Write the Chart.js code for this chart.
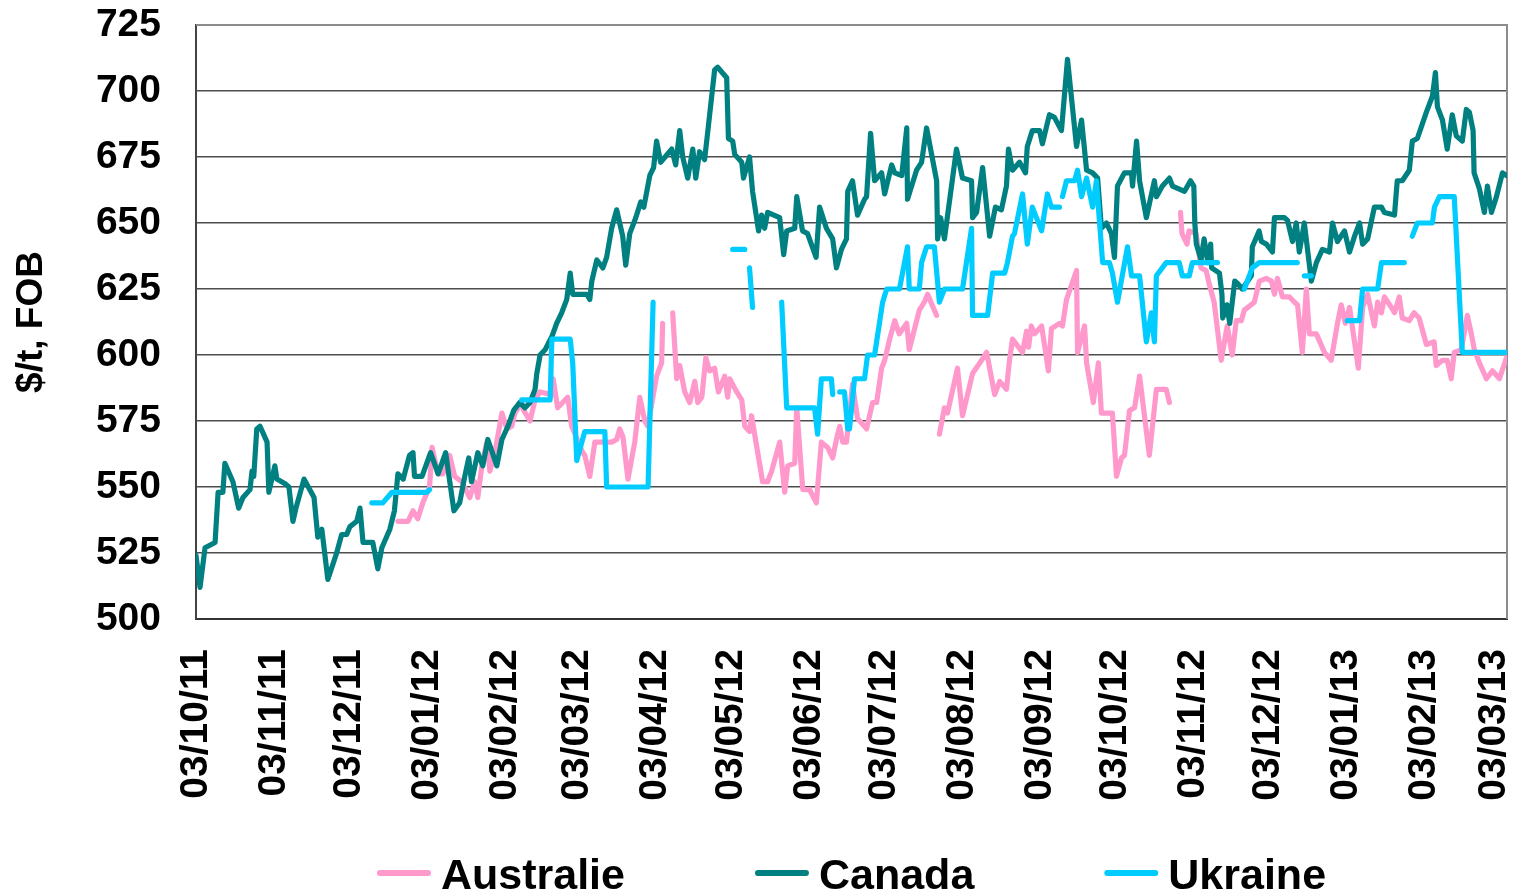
<!DOCTYPE html>
<html>
<head>
<meta charset="utf-8">
<script src="https://cdn.jsdelivr.net/npm/chart.js@4.4.1/dist/chart.umd.min.js"></script>
<style>
  html, body { margin: 0; padding: 0; background: #fff; }
  canvas { display: block; }
</style>
</head>
<body>
<canvas id="chart" width="1515" height="896"></canvas>
<script>
// x = days since 03/10/11
const tickDays = [0, 31, 61, 92, 123, 152, 183, 213, 244, 274, 305, 336, 366, 397, 427, 458, 489, 517];
const tickLabels = ['03/10/11', '03/11/11', '03/12/11', '03/01/12', '03/02/12', '03/03/12', '03/04/12', '03/05/12',
  '03/06/12', '03/07/12', '03/08/12', '03/09/12', '03/10/12', '03/11/12', '03/12/12', '03/01/13', '03/02/13', '03/03/13'];

const seriesNames = ['Australie', 'Canada', 'Ukraine'];
const seriesColors = ['#ff99cc', '#008080', '#00ccff'];

const ausDays = [80.4, 84.4, 86.4, 88.3, 90.3, 93, 94, 96.3, 98.3, 101, 103, 105.8, 109, 111, 112.2, 113.8, 115.8, 117, 119, 121.8,
  123.8, 125.7, 127, 129.7, 130.5, 133, 135, 137, 141.7, 142.2, 144, 148, 149.6, 154, 154.8, 156.8, 158.8, 162, 165.5, 167.5,
  168.7, 170, 172, 174.7, 176.7, 178.7, 179.9, 183.4, 185.4, 185.8, 187.5, 189.8, 191.4, 192.6, 194.6, 196.6, 198.6, 199.8, 201.4, 203,
  204.5, 206.5, 208, 210.5, 211.7, 212.5, 215.3, 217.3, 218.5, 220.4, 221.2, 225.6, 227.6, 229.2, 232.4, 234.4, 235.6, 238.4, 239.2, 241.6,
  244.3, 247, 249, 251.5, 253.5, 255, 256.3, 257.5, 259, 261.4, 263.4, 267, 269.4, 271, 273, 274.2, 276.2, 278.2, 280, 283,
  284, 288, 290, 291.3, 294.9, 295.5, 296, 298, 299.2, 303.2, 305.2, 309.2, 312.8, 314.8, 318, 320, 322.7, 323.9, 325.1, 329.1,
  330.7, 331.5, 332.6, 333.9, 336.7, 339.4, 340.6, 343.8, 345, 346.6, 350.6, 351, 353.8, 354.6, 357.3, 359.3, 360.5, 364.9, 366.5, 368.5,
  369.7, 371.7, 373.7, 375.7, 379.6, 382.4, 386.3, 387.6, 390, 392, 392.6, 394.6, 395.4, 398.2, 400.2, 402.2, 403.4, 405.4, 408.2, 410.6,
  412.6, 414.2, 416.2, 417.4, 421.4, 423.4, 426.2, 428.2, 429.4, 430.6, 432.6, 435.4, 437.4, 438.6, 440.5, 442.1, 443.3, 446.1, 449.3, 452,
  454.5, 456, 457.6, 459.3, 462.8, 464.5, 466.5, 469.2, 470.5, 472, 473.2, 476, 477.2, 479.1, 480.3, 483.1, 485, 487, 489.9, 493,
  493.8, 496.3, 498.2, 499.8, 501, 503.8, 506.2, 507.8, 509, 511, 513.8, 516.2, 519, 521.8];
const ausValues = [537, 537, 541, 538, 544, 550, 565, 555, 555, 562, 554, 552, 546, 552, 546, 558, 567, 556, 563, 578,
  572, 573, 578, 582, 579, 575, 583, 586, 585, 591, 580, 584, 573, 563, 562, 554, 567, 567, 567, 568,
  572, 569, 553, 567, 584, 575, 573, 592, 597, 612, null, 616, 591, 596, 586, 582, 590, 582, 584, 599,
  594, 595, 586, 592, 584, 591, 586, 583, 573, 571, 577, 552, 552, 556, 567, 548, 558, 559, 580, 549,
  549, 544, 567, 565, 561, 568, 573, 567, 567, 589, 576, 572, 582, 582, 595, 598, 606, 613, 608, 612,
  602, 617, 620, 623, 615, null, 570, 580, 578, 595, 577, 593, 598, 601, 585, 590, 587, 598, 606, 601,
  609, 603, 611, 608, 611, 594, 610, 612, 611, 621, 632, 601, 611, 597, 582, 597, 578, 578, 554, 561,
  562, 579, 580, 592, 562, 587, 587, 582, null, 654, 646, 642, 647, 646, 633, 632, 627, 620, 598, 611,
  600, 613, 613, 617, 620, 628, 629, 628, 623, 629, 622, 622, 620, 619, 601, 625, 608, 608, 601, 598,
  612, 619, 612, 618, 595, 618, 623, 611, 620, 616, 622, 618, 616, 622, 614, 613, 616, 614, 604, 605,
  596, 598, 598, 591, 601, 602, 615, 608, 602, 597, 591, 594, 591, 599];

const canDays = [0, 1.6, 3.6, 7.6, 8.8, 10.7, 11.5, 14.7, 17, 18.7, 21.5, 22.3, 23, 24.2, 25.5, 28.3, 29, 31.4, 32.2, 35.8,
  37, 38.6, 39.8, 43, 47, 48.5, 50.1, 52.5, 56, 58, 60, 61.3, 64, 65.3, 66.5, 70.4, 72.4, 74, 77.2, 79,
  80.4, 82.5, 85, 86.4, 87, 90, 93.4, 96.4, 99.4, 102.7, 105, 107, 108.6, 109.7, 112.2, 114.2, 116.2, 119.8, 121.8, 124.2,
  126.5, 128.9, 131, 133, 135, 135.7, 137, 139, 141.7, 143.6, 145.6, 147.6, 149, 150, 155.6, 156.8, 157.6, 159.6, 162, 163.5,
  165.5, 167.5, 169.9, 171.1, 172.7, 175.1, 177.1, 178.3, 180.7, 182.2, 183.4, 185, 189.4, 191, 192.6, 193.8, 195.8, 197.8, 199, 200.5,
  202.5, 203.7, 206.5, 207.7, 211.3, 212, 213.7, 214.5, 217.3, 218, 220.4, 221.6, 224, 225.2, 226.4, 227.6, 232.4, 234, 235.2, 238.4,
  239.2, 241.5, 243.5, 246.9, 248.3, 251, 253.5, 255, 257, 259, 259.5, 261.4, 263.4, 266.2, 267, 268.6, 270.2, 273, 274.2, 277,
  278.2, 281, 283, 283.3, 286.9, 288.9, 290.9, 294.9, 295.3, 296.5, 298, 302.8, 305.2, 308.8, 309.2, 310.8, 313.2, 316, 318.3, 320.7,
  322.7, 323.5, 325.1, 327.9, 330.3, 331, 333, 335.9, 337, 339.8, 341.8, 344.6, 347, 350.6, 352.6, 354.6, 357, 359, 360.5, 362.5,
  364.5, 365.7, 366.9, 369.7, 372.5, 372.9, 374.5, 375.7, 378.4, 381.6, 382.4, 384.8, 387.6, 388.8, 393.6, 396, 397.3, 397.7, 398.3, 400.2,
  401.4, 402.9, 404, 404.4, 407.5, 408.5, 408.8, 410.5, 411.6, 413.6, 414.8, 416.6, 420.2, 420.6, 423.3, 424.2, 426.2, 428.6, 429.4, 433.4,
  434.6, 436.6, 438.1, 439.3, 441.3, 444.1, 446.1, 448.5, 451.3, 452.5, 454.5, 457.3, 459.3, 461.3, 463.3, 464.5, 466.5, 469.2, 472, 473.2,
  477.2, 478.3, 480.3, 483.1, 484.3, 486.3, 489.9, 492.3, 493.5, 494.3, 496.3, 498.2, 500.2, 501.8, 504.2, 505.8, 507, 508.5, 508.9, 511,
  513, 514.2, 515.8, 517.8, 520.2, 521.8];
const canValues = [524, 512, 527, 529, 548, 548, 559, 552, 542, 546, 549, 556, 554, 572, 573, 567, 548, 558, 553, 551,
  550, 537, 542, 553, 546, 531, 534, 515, 525, 532, 532, 535, 537, 542, 529, 529, 519, 527, 534, 541,
  555, 553, 562, 563, 554, 554, 563, 555, 563, 541, 544, 554, 561, 552, 563, 558, 568, 558, 568, 573,
  579, 582, 580, 582, 587, 593, 600, 602, 607, 612, 616, 621, 631, 623, 623, 621, 628, 636, 633, 637,
  648, 655, 645, 634, 646, 652, 658, 656, 668, 671, 681, 673, 678, 672, 685, 675, 667, 678, 667, 677,
  674, 684, 708, 709, 705, 682, 681, 676, 673, 667, 675, 662, 647, 653, 648, 654, 652, 638, 647, 648,
  660, 647, 646, 637, 656, 648, 644, 633, 640, 644, 662, 666, 653, 659, 660, 684, 666, 669, 661, 672,
  669, 668, 686, 659, 670, 673, 686, 666, 644, 652, 644, 678, 667, 666, 652, 654, 671, 645, 656, 655,
  664, 678, 670, 673, 669, 679, 685, 685, 680, 691, 690, 685, 712, 679, 689, 670, 669, 667, 648, 650,
  646, 637, 664, 669, 669, 664, 681, 666, 652, 666, 660, 664, 667, 664, 662, 666, 664, 650, 642, 636,
  644, 635, 642, 633, 631, 623, 614, 619, 612, 628, 627, 625, 630, 641, 647, 643, 642, 639, 652, 652,
  651, 643, 650, 639, 650, 628, 635, 640, 639, 650, 643, 647, 639, 645, 650, 642, 644, 656, 656, 654,
  653, 666, 666, 670, 681, 682, 692, 698, 707, 694, 689, 678, 691, 683, 681, 693, 692, 685, 669, 663,
  654, 664, 654, 660, 669, 668];

const ukrDays = [70, 74.4, 78, 92, 93, 110, 129.7, 141, 141.7, 149, 150, 151.6, 154.8, 162.8, 163.5, 180, 182, 197, 213.7, 218.5,
  219.5, 220.4, 221.6, 228, 233.2, 235.2, 246.3, 247.5, 249, 253, 253.5, 255, 256.3, 258.2, 259.5, 260.2, 262.2, 266.2, 267.4, 270.2,
  273.4, 275, 280.1, 281.3, 283.3, 284, 288, 288.9, 290.9, 294, 296, 298, 305.2, 308.8, 309.2, 315.2, 317.2, 322, 323.1, 325.1,
  325.9, 329.1, 331, 333, 336.7, 339, 340.6, 343.8, 344.4, 345, 346.6, 349.8, 351, 352.6, 354.6, 357, 358.5, 361, 363.7, 364.9,
  366.9, 370.9, 372.5, 375.7, 378.4, 380.4, 381.6, 382.4, 386.3, 391.5, 392.7, 395.5, 396.7, 406.7, 412, 417.4, 420.6, 423.3, 438.5, 440,
  441.3, 444.1, 450, 458.4, 463.3, 464.5, 470.5, 472, 481.1, 483, 484.3, 486.3, 492.3, 493.1, 495.1, 501, 504.2, 522];
const ukrValues = [544, 544, 548, 548, 549, null, 583, 583, 606, 606, 597, 560, 571, 571, 550, 550, 620, null, 640, 640,
  null, 633, 618, null, 620, 580, 580, 570, 591, 591, 585, null, 586, 586, 572, 572, 591, 591, 600, 600,
  620, 625, 625, 631, 641, 625, 625, 635, 641, 641, 620, 625, 625, 648, 615, 615, 631, 631, 635, 645,
  646, 661, 642, 656, 647, 661, 656, 656, null, 660, 666, 666, 670, 660, 667, 656, 666, 635, 635, 631,
  620, 641, 630, 630, 605, 616, 605, 630, 635, 635, 630, 630, 635, 635, null, 625, 633, 635, 635, null,
  630, 630, null, 613, 613, 625, 625, 635, 635, null, 645, 650, 650, 656, 660, 660, 601, 601];

function toPoints(days, values) {
  return days.map((d, i) => ({ x: d, y: values[i] }));
}

const FONT = '"Liberation Sans", Arial, Helvetica, sans-serif';

const frame = {
  id: 'frame',
  beforeDatasetsDraw(chart) {
    const a = chart.chartArea, ctx = chart.ctx;
    ctx.save();
    ctx.strokeStyle = '#8c8c8c';
    ctx.lineWidth = 2;
    ctx.beginPath();
    ctx.moveTo(a.left, a.top);
    ctx.lineTo(a.right, a.top);
    ctx.lineTo(a.right, a.bottom);
    ctx.stroke();
    ctx.restore();
  }
};

const bottomLegend = {
  id: 'bottomLegend',
  afterDraw(chart) {
    const a = chart.chartArea, ctx = chart.ctx;
    ctx.save();
    ctx.font = 'bold 43px ' + FONT;
    const lineLen = 54, textGap = 10, itemGap = 130;
    const widths = seriesNames.map(n => lineLen + textGap + ctx.measureText(n).width);
    const total = widths.reduce((s, w) => s + w, 0) + itemGap * (widths.length - 1);
    let x = (a.left + a.right) / 2 - total / 2;
    const y = 873;
    seriesNames.forEach((name, i) => {
      ctx.strokeStyle = seriesColors[i];
      ctx.lineWidth = 6;
      ctx.lineCap = 'round';
      ctx.beginPath();
      ctx.moveTo(x + 3, y);
      ctx.lineTo(x + lineLen - 3, y);
      ctx.stroke();
      ctx.fillStyle = '#000';
      ctx.textBaseline = 'alphabetic';
      ctx.fillText(name, x + lineLen + textGap, y + 16);
      x += widths[i] + itemGap;
    });
    ctx.restore();
  }
};

const ctx = document.getElementById('chart');
new Chart(ctx, {
  type: 'line',
  data: {
    datasets: [
      { label: seriesNames[0], data: toPoints(ausDays, ausValues), borderColor: seriesColors[0], order: 2 },
      { label: seriesNames[1], data: toPoints(canDays, canValues), borderColor: seriesColors[1], order: 1 },
      { label: seriesNames[2], data: toPoints(ukrDays, ukrValues), borderColor: seriesColors[2], order: 0 }
    ]
  },
  options: {
    responsive: false,
    animation: false,
    devicePixelRatio: 1,
    spanGaps: false,
    layout: { padding: { top: 25, right: 8, bottom: 80, left: 0 } },
    elements: {
      line: { borderWidth: 5.2, tension: 0, borderJoinStyle: 'round', borderCapStyle: 'round', fill: false },
      point: { radius: 0, hoverRadius: 0 }
    },
    plugins: {
      legend: { display: false },
      tooltip: { enabled: false }
    },
    scales: {
      x: {
        type: 'linear',
        min: 0,
        max: 522,
        afterBuildTicks(scale) {
          scale.ticks = tickDays.map(v => ({ value: v }));
        },
        afterFit(scale) {
          scale.height = 896 - 80 - 619;
          scale.paddingLeft = 0;
          scale.paddingRight = 0;
        },
        grid: { drawOnChartArea: false, drawTicks: false },
        border: { display: true, color: '#333', width: 2 },
        ticks: {
          autoSkip: false,
          maxRotation: 90,
          minRotation: 90,
          padding: 30,
          color: '#000',
          font: { family: FONT, size: 39, weight: 'bold' },
          callback: (value, index) => tickLabels[index]
        }
      },
      y: {
        min: 500,
        max: 725,
        afterFit(scale) {
          scale.width = 196;
          scale.paddingTop = 0;
          scale.paddingBottom = 0;
        },
        grid: { color: '#4d4d4d', lineWidth: 1.5, drawTicks: false },
        border: { display: true, color: '#444', width: 2 },
        ticks: {
          stepSize: 25,
          padding: 35,
          color: '#000',
          font: { family: FONT, size: 39, weight: 'bold' }
        },
        title: {
          display: true,
          text: '$/t, FOB',
          color: '#000',
          padding: { top: 10, bottom: 0 },
          font: { family: FONT, size: 37, weight: 'bold' }
        }
      }
    }
  },
  plugins: [frame, bottomLegend]
});
</script>
</body>
</html>
